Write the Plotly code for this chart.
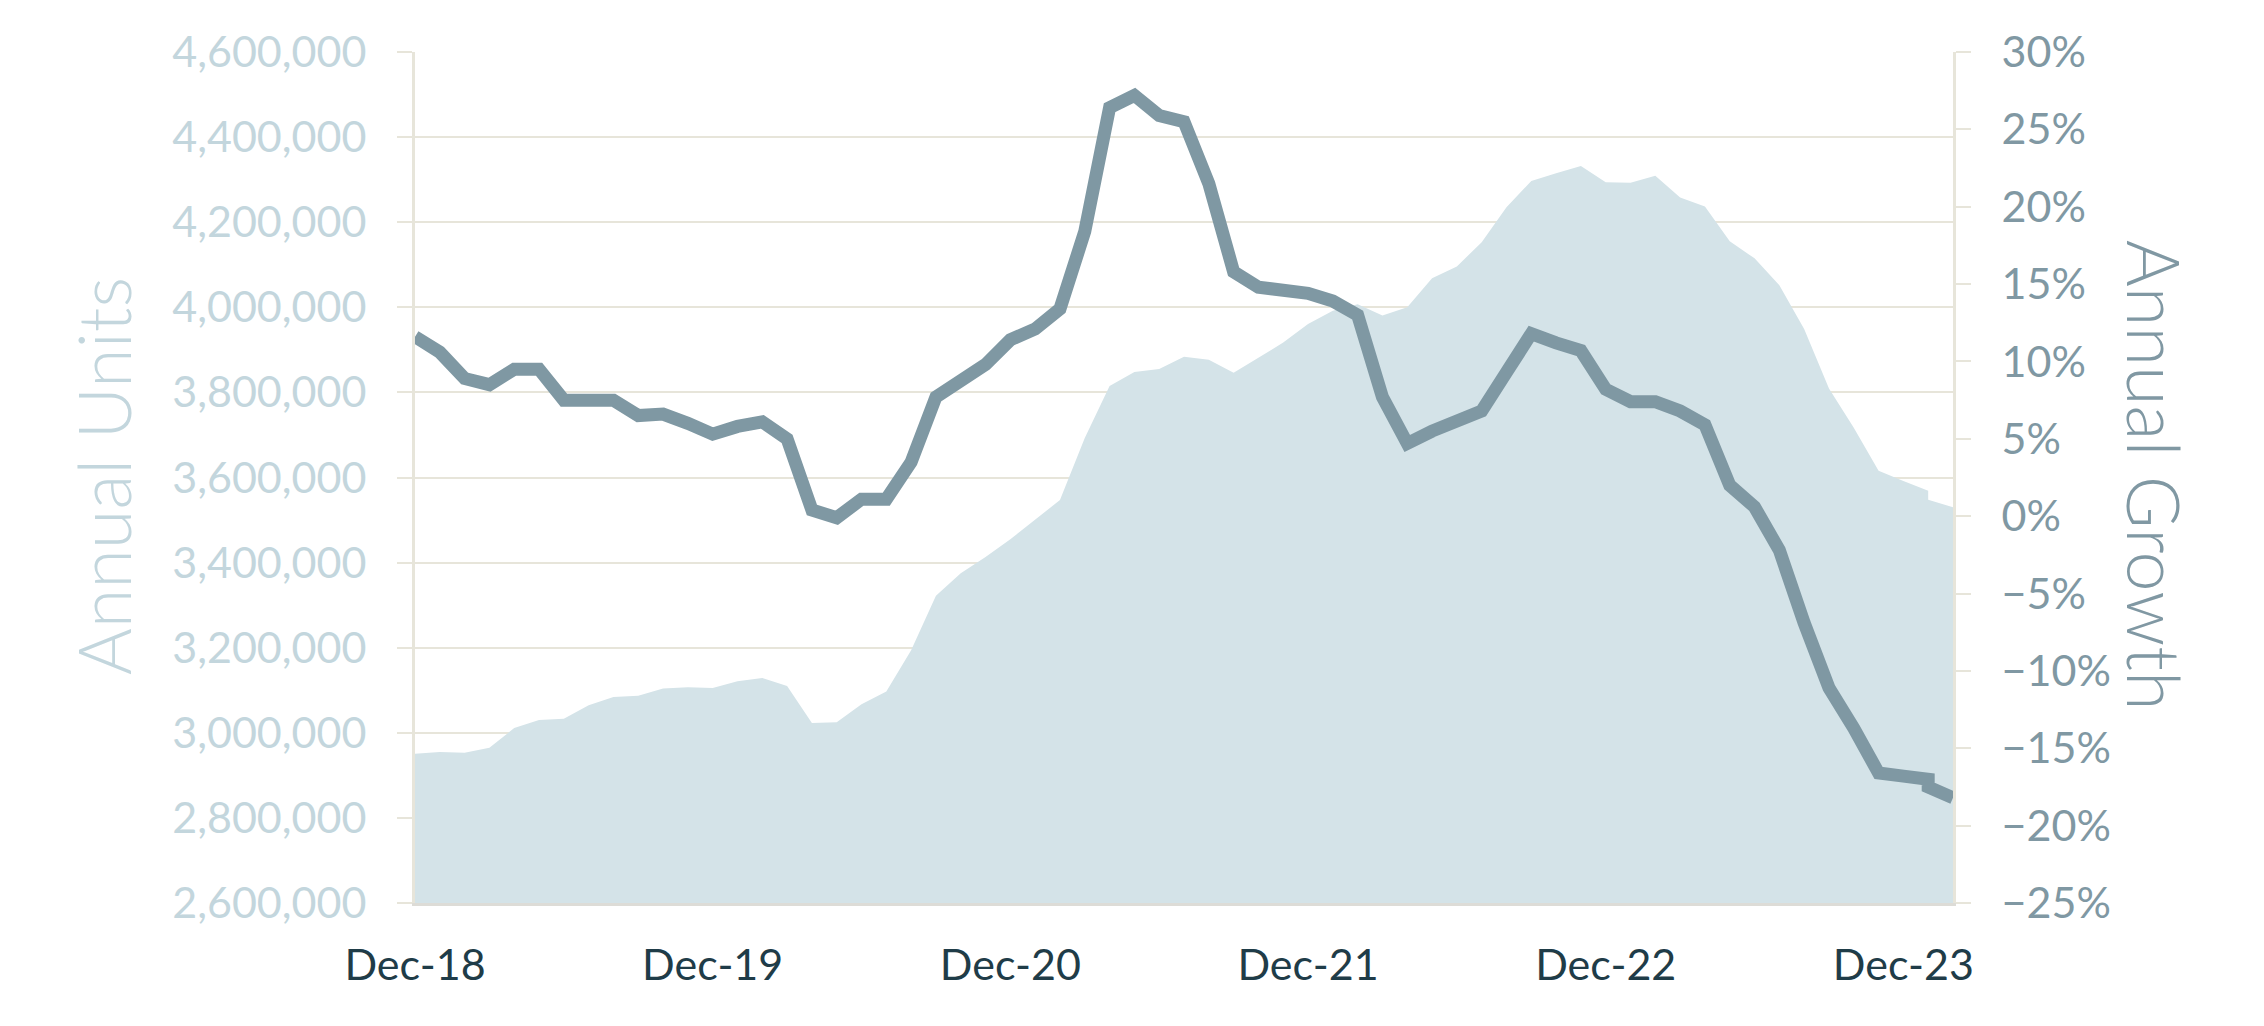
import plotly.graph_objects as go

# Monthly labels (Jan-24 appears twice: the source series has a step at that month)
months = [
    "Dec-18", "Jan-19", "Feb-19", "Mar-19", "Apr-19", "May-19", "Jun-19", "Jul-19", "Aug-19", "Sep-19", "Oct-19", "Nov-19",
    "Dec-19", "Jan-20", "Feb-20", "Mar-20", "Apr-20", "May-20", "Jun-20", "Jul-20", "Aug-20", "Sep-20", "Oct-20", "Nov-20",
    "Dec-20", "Jan-21", "Feb-21", "Mar-21", "Apr-21", "May-21", "Jun-21", "Jul-21", "Aug-21", "Sep-21", "Oct-21", "Nov-21",
    "Dec-21", "Jan-22", "Feb-22", "Mar-22", "Apr-22", "May-22", "Jun-22", "Jul-22", "Aug-22", "Sep-22", "Oct-22", "Nov-22",
    "Dec-22", "Jan-23", "Feb-23", "Mar-23", "Apr-23", "May-23", "Jun-23", "Jul-23", "Aug-23", "Sep-23", "Oct-23", "Nov-23",
    "Dec-23", "Jan-24", "Jan-24", "Feb-24",
]

annual_units = [
    2951000, 2955000, 2953000, 2965000, 3011000, 3030000, 3033000, 3065000, 3084000, 3087000, 3104000, 3107000,
    3105000, 3121000, 3129000, 3110000, 3023000, 3025000, 3067000, 3097000, 3194000, 3322000, 3375000, 3413000,
    3455000, 3501000, 3547000, 3693000, 3815000, 3848000, 3855000, 3884000, 3877000, 3846000, 3882000, 3917000,
    3961000, 3992000, 4007000, 3981000, 4000000, 4068000, 4096000, 4153000, 4235000, 4297000, 4315000, 4332000,
    4294000, 4293000, 4309000, 4258000, 4237000, 4155000, 4115000, 4052000, 3949000, 3809000, 3717000, 3616000,
    3592000, 3569000, 3548000, 3530000,
]

annual_growth = [
    11.6, 10.6, 8.9, 8.5, 9.5, 9.5, 7.5, 7.6, 7.5, 6.5, 6.6, 6.0,
    5.3, 5.8, 6.1, 5.0, 0.4, -0.1, 1.1, 1.1, 3.5, 7.7, 8.8, 9.8,
    11.4, 12.1, 13.4, 18.4, 26.4, 27.2, 25.9, 25.5, 21.5, 15.8, 14.8, 14.6,
    14.4, 13.9, 13.0, 7.7, 4.7, 5.5, 6.2, 6.8, 9.3, 11.8, 11.2, 10.7,
    8.2, 7.4, 7.4, 6.8, 5.9, 2.0, 0.6, -2.2, -6.9, -11.1, -13.7, -16.6,
    -16.8, -17.0, -17.5, -18.2,
]

year_ticks = ["Dec-18", "Dec-19", "Dec-20", "Dec-21", "Dec-22", "Dec-23"]

FONT = "Lato"
GRID = "#e7e5da"
FILL = "#d4e3e8"
LINE = "#7f98a3"
LEFT_TXT = "#c3d6dd"
RIGHT_TXT = "#8098a3"
X_TXT = "#1f3c48"

fig = go.Figure()
fig.add_trace(go.Scatter(
    x=months, y=annual_units, mode="lines", fill="tozeroy",
    fillcolor=FILL, line=dict(color=FILL, width=0), yaxis="y", showlegend=False,
    hoverinfo="skip",
))
fig.add_trace(go.Scatter(
    x=months, y=annual_growth, mode="lines",
    line=dict(color=LINE, width=13), yaxis="y2", showlegend=False,
))

fig.update_layout(
    width=2264, height=1026,
    margin=dict(l=415, r=311, t=52, b=123),
    paper_bgcolor="white", plot_bgcolor="white",
    font=dict(family=FONT),
    xaxis=dict(
        type="category", range=[0, 62],
        tickmode="array", tickvals=year_ticks, ticktext=year_ticks,
        showgrid=False, ticks="", showline=True, linecolor="#dddcd7", linewidth=3,
        tickfont=dict(size=43, color=X_TXT), ticklabelstandoff=22,
        zeroline=False,
    ),
    yaxis=dict(
        range=[2600000, 4600000], dtick=200000, tickformat=",d",
        showgrid=True, gridcolor=GRID, gridwidth=2,
        ticks="outside", ticklen=15, tickcolor=GRID, tickwidth=2,
        showline=True, linecolor=GRID, linewidth=3,
        tickfont=dict(size=43, color=LEFT_TXT), ticklabelstandoff=22,
        zeroline=False,
    ),
    yaxis2=dict(
        range=[-25, 30], dtick=5, ticksuffix="%", overlaying="y", side="right",
        showgrid=False, ticks="outside", ticklen=15, tickcolor=GRID, tickwidth=2,
        showline=True, linecolor=GRID, linewidth=3,
        tickfont=dict(size=43, color=RIGHT_TXT), ticklabelstandoff=22,
        zeroline=False,
    ),
    annotations=[
        dict(text="Annual Units", xref="paper", yref="paper", x=-0.2032, y=0.502,
             xanchor="center", yanchor="middle", textangle=-90, showarrow=False,
             font=dict(family=FONT, size=72, color=LEFT_TXT, weight=300)),
        dict(text="Annual Growth", xref="paper", yref="paper", x=1.1313, y=0.502,
             xanchor="center", yanchor="middle", textangle=90, showarrow=False,
             font=dict(family=FONT, size=72, color=RIGHT_TXT, weight=300)),
    ],
)

fig.write_html("out.html")
